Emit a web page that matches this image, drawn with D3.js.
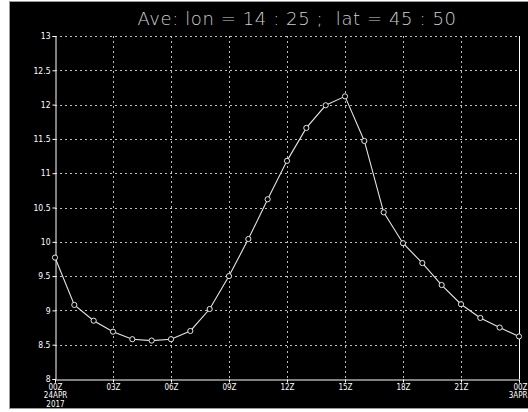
<!DOCTYPE html>
<html>
<head>
<meta charset="utf-8">
<script src="https://cdn.jsdelivr.net/npm/d3@7"></script>
<style>
  html, body { margin: 0; padding: 0; background: #fff; }
  svg { display: block; }
</style>
</head>
<body>
<div id="chart"></div>
<script>
// hourly values, 00Z 24APR 2017 -> 00Z next day
var hours = [0, 1, 2, 3, 4, 5, 6, 7, 8, 9, 10, 11, 12, 13, 14, 15, 16, 17, 18, 19, 20, 21, 22, 23, 24];
var values = [9.77, 9.08, 8.85, 8.69, 8.58, 8.56, 8.58, 8.70, 9.02, 9.50, 10.04, 10.62, 11.18,
              11.66, 11.99, 12.12, 11.47, 10.43, 9.98, 9.69, 9.37, 9.09, 8.89, 8.75, 8.62];

var xTicks = [0, 3, 6, 9, 12, 15, 18, 21, 24];
var xTickLabels = [["00Z", "24APR", "2017"], ["03Z"], ["06Z"], ["09Z"], ["12Z"], ["15Z"], ["18Z"], ["21Z"], ["00Z", "3APR"]];
var yTicks = [8, 8.5, 9, 9.5, 10, 10.5, 11, 11.5, 12, 12.5, 13];
var title = "Ave: lon = 14 : 25 ;  lat = 45 : 50";

var width = 528, height = 412;
var plot = {left: 55, right: 519, top: 36, bottom: 379};
var labelFont = "'DejaVu Sans Condensed', 'DejaVu Sans', sans-serif";

var svg = d3.select("#chart").append("svg")
  .attr("width", width)
  .attr("height", height);

// black page
svg.append("rect")
  .attr("x", 9.5).attr("y", 1.5)
  .attr("width", width).attr("height", 407)
  .attr("fill", "#000")
  .attr("stroke", "#9a9a9a");

var x = d3.scaleLinear().domain([0, 24]).range([plot.left, plot.right]);
var y = d3.scaleLinear().domain([8, 13]).range([plot.bottom, plot.top]);

// dotted grid
var grid = svg.append("g").attr("stroke", "#bdbdbd").attr("stroke-dasharray", "2,3").attr("stroke-width", 1);
grid.selectAll(".gy").data(yTicks.slice(1)).enter().append("line")
  .attr("x1", plot.left).attr("x2", plot.right)
  .attr("y1", d => Math.round(y(d)) + 0.5).attr("y2", d => Math.round(y(d)) + 0.5);
grid.selectAll(".gx").data(xTicks.slice(1, -1)).enter().append("line")
  .attr("y1", plot.top).attr("y2", plot.bottom)
  .attr("x1", d => Math.round(x(d)) + 0.5).attr("x2", d => Math.round(x(d)) + 0.5);

// axes
var yAxis = d3.axisLeft(y).tickValues(yTicks).tickSize(3).tickPadding(2).tickFormat(d3.format("~g"));
var gy = svg.append("g")
  .attr("transform", `translate(${plot.left + 0.5},0)`)
  .call(yAxis);

var xAxis = d3.axisBottom(x).tickValues(xTicks).tickSize(3);
var gx = svg.append("g")
  .attr("transform", `translate(0,${plot.bottom + 0.5})`)
  .call(xAxis);
gx.selectAll(".tick text").remove();

[gy, gx].forEach(g => {
  g.select(".domain").attr("stroke", "#fff");
  g.selectAll(".tick line").attr("stroke", "#fff");
  g.selectAll("text").attr("fill", "#fff")
    .style("font-family", labelFont)
    .style("font-size", "8.5px");
});

// multi-line x labels, one text per line
var last = xTicks.length - 1;
gx.selectAll(".tick").each(function(d, i) {
  var tick = d3.select(this);
  xTickLabels[i].forEach((s, k) => {
    tick.append("text")
      .attr("fill", "#fff")
      .attr("text-anchor", i === last ? "end" : "middle")
      .attr("x", i === last ? 8 : 0)
      .attr("y", 10 + k * 8.5)
      .style("font-family", labelFont)
      .style("font-size", "8px")
      .text(s);
  });
});

// right frame
svg.append("line")
  .attr("x1", plot.right + 0.5).attr("x2", plot.right + 0.5)
  .attr("y1", plot.top).attr("y2", plot.bottom)
  .attr("stroke", "#fff");

// series
var line = d3.line()
  .x((d, i) => x(hours[i]))
  .y(d => y(d));

svg.append("path")
  .datum(values)
  .attr("d", line)
  .attr("fill", "none")
  .attr("stroke", "#e4e4e4")
  .attr("stroke-width", 1.1);

svg.selectAll(".pt").data(values).enter().append("circle")
  .attr("cx", (d, i) => x(hours[i]))
  .attr("cy", d => y(d))
  .attr("r", 2.6)
  .attr("fill", "#000")
  .attr("stroke", "#e4e4e4")
  .attr("stroke-width", 1);

// title
svg.append("text")
  .attr("x", 297).attr("y", 25)
  .attr("text-anchor", "middle")
  .attr("fill", "#cfcfcf")
  .style("font-family", "'DejaVu Sans', sans-serif")
  .style("font-weight", 200)
  .style("font-size", "18px")
  .style("letter-spacing", "0.6px")
  .style("white-space", "pre")
  .text(title);
</script>
</body>
</html>
